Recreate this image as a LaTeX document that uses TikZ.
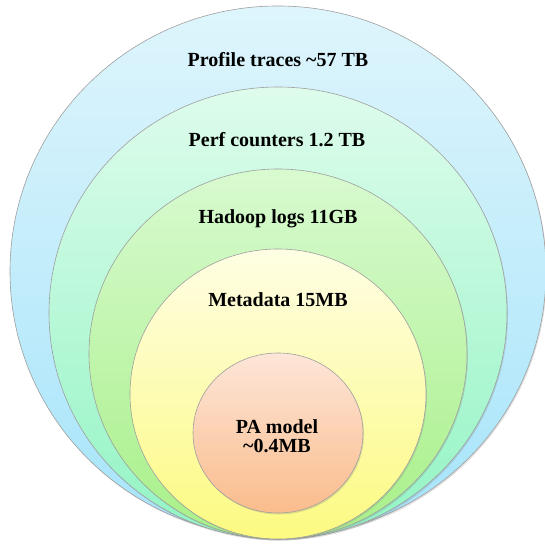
\documentclass[tikz,border=0pt]{standalone}
\usepackage{fontspec}
\setmainfont{Liberation Serif}
\usetikzlibrary{shapes.geometric,shadows,positioning}

\definecolor{traceTop}{RGB}{222,245,252}
\definecolor{traceBot}{RGB}{166,228,250}
\definecolor{perfTop}{RGB}{222,252,236}
\definecolor{perfBot}{RGB}{146,244,196}
\definecolor{hadoopTop}{RGB}{216,250,208}
\definecolor{hadoopBot}{RGB}{168,240,136}
\definecolor{metaTop}{RGB}{254,254,228}
\definecolor{metaBot}{RGB}{252,250,128}
\definecolor{paTop}{RGB}{253,230,216}
\definecolor{paBot}{RGB}{250,188,140}

\begin{document}
\begin{tikzpicture}[
        x=1pt, y=1pt,
        ring/.style={ellipse, draw=gray!75, line width=0.6pt, inner sep=0pt,
            drop shadow={opacity=0.25, shadow xshift=1pt, shadow yshift=-1.5pt}},
        label/.style={font=\bfseries\fontsize{20}{19}\selectfont, align=center}
    ]
  \useasboundingbox (0,0) rectangle (545,545);

  % Rings, all touching at the bottom
  \node (traces) [ring, minimum width=536pt, minimum height=531pt,
        top color=traceTop, bottom color=traceBot] at (278,273.5) {};
  \node (perf) [ring, minimum width=458pt, minimum height=452pt,
        top color=perfTop, bottom color=perfBot] at (278,232) {};
  \node (hadoop) [ring, minimum width=378pt, minimum height=370pt,
        top color=hadoopTop, bottom color=hadoopBot] at (278,191) {};
  \node (meta) [ring, minimum width=296pt, minimum height=290pt,
        top color=metaTop, bottom color=metaBot] at (278,151) {};
  \node (pa) [ring, minimum width=170pt, minimum height=160pt,
        top color=paTop, bottom color=paBot] at (278,112) {};

  % Labels
  \node (tracesLbl) [label] at (278,485) {Profile traces \textasciitilde57 TB};
  \node (perfLbl) [label] at (277,405) {Perf counters 1.2 TB};
  \node (hadoopLbl) [label] at (278,326) {Hadoop logs 11GB};
  \node (metaLbl) [label] at (278,245) {Metadata 15MB};
  \node (paLbl) [label] at (277,109) {PA model\\\textasciitilde0.4MB};
\end{tikzpicture}
\end{document}
